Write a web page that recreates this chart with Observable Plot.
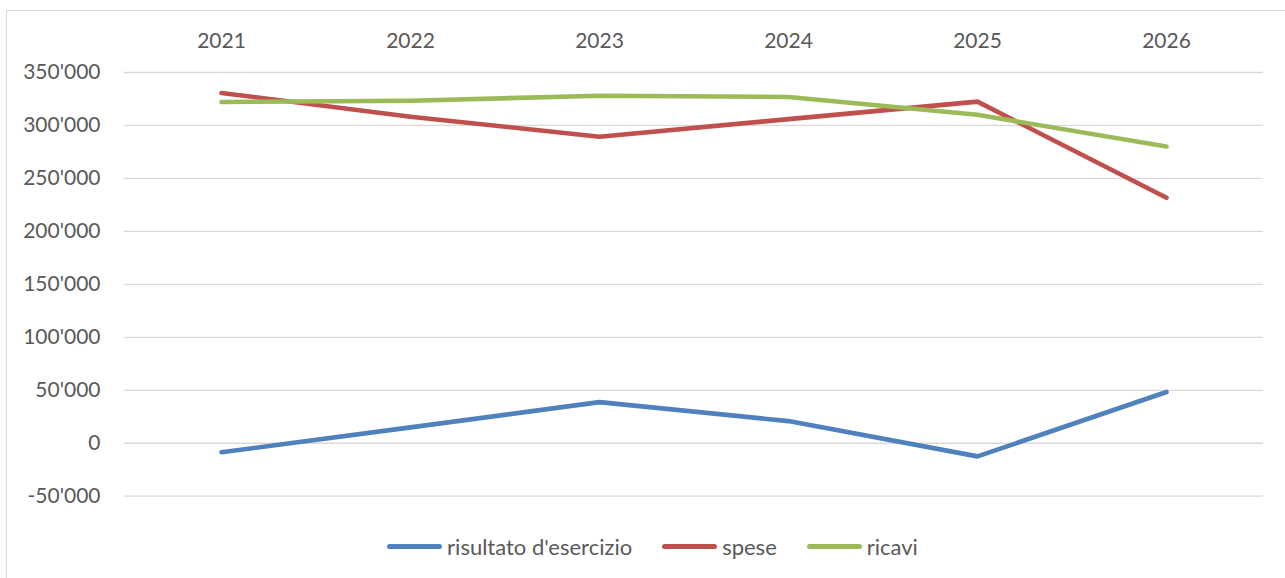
<!DOCTYPE html>
<html>
<head>
<meta charset="utf-8">
<script src="https://cdn.jsdelivr.net/npm/d3@7"></script>
<script src="https://cdn.jsdelivr.net/npm/@observablehq/plot@0.6"></script>
<style>
  html, body { margin: 0; padding: 0; background: #fff; }
  body { width: 1285px; height: 578px; position: relative; overflow: hidden; font-family: Lato, "Open Sans", sans-serif; }
  #frame { position: absolute; left: 6px; top: 10px; width: 1290px; height: 580px; border: 1px solid #d9d9d9; box-sizing: border-box; }
  #chart { position: absolute; left: 0; top: 0; }
  #legend { position: absolute; left: 0; top: 533px; width: 1305px; display: flex; justify-content: center; font-size: 22px; color: #595959; }
  .item { display: flex; align-items: center; margin: 0 15px; }
  .sw { width: 55px; height: 5px; border-radius: 3px; margin-right: 5px; }
</style>
</head>
<body>
<div id="frame"></div>
<div id="chart"></div>
<div id="legend"></div>
<script>
const years = ["2021", "2022", "2023", "2024", "2025", "2026"];
const risultato = [-8500, 15000, 38800, 20900, -12400, 48400];
const spese = [330700, 308300, 289300, 306000, 322500, 231700];
const ricavi = [322200, 323300, 328100, 326900, 310100, 280100];
const seriesNames = ["risultato d'esercizio", "spese", "ricavi"];
const seriesColors = ["#4F81BD", "#C0504D", "#9BBB59"];
const yTicks = [-50000, 0, 50000, 100000, 150000, 200000, 250000, 300000, 350000];

const seriesValues = [risultato, spese, ricavi];
const data = [];
seriesNames.forEach((name, i) => {
  years.forEach((y, j) => data.push({series: name, year: y, value: seriesValues[i][j]}));
});

const locale = d3.formatLocale({decimal: ".", thousands: "'", grouping: [3], currency: ["", ""], minus: "-"});
const fmt = locale.format(",d");

const chart = Plot.plot({
  width: 1285,
  height: 530,
  marginLeft: 124,
  marginRight: 22,
  marginTop: 72,
  marginBottom: 34.3,
  style: {fontFamily: "Lato, 'Open Sans', sans-serif", fontSize: "21px", color: "#595959", background: "transparent"},
  x: {type: "point", domain: years, padding: 0.5, axis: null},
  y: {domain: [-50000, 350000], axis: null},
  color: {domain: seriesNames, range: seriesColors},
  marks: [
    Plot.gridY(yTicks, {stroke: "#d9d9d9", strokeOpacity: 1, strokeWidth: 1.3}),
    Plot.axisY(yTicks, {tickSize: 0, tickPadding: 24, tickFormat: fmt, label: null, fill: "#595959"}),
    Plot.axisX(years, {anchor: "top", tickSize: 0, tickPadding: 25, label: null, fill: "#595959"}),
    Plot.line(data, {x: "year", y: "value", z: "series", stroke: "series", strokeWidth: 4.6, strokeLinecap: "round", strokeLinejoin: "round"})
  ]
});
document.getElementById("chart").appendChild(chart);

const legend = document.getElementById("legend");
seriesNames.forEach((name, i) => {
  const item = document.createElement("div");
  item.className = "item";
  const sw = document.createElement("div");
  sw.className = "sw";
  sw.style.background = seriesColors[i];
  const t = document.createElement("span");
  t.textContent = name;
  item.appendChild(sw);
  item.appendChild(t);
  legend.appendChild(item);
});
</script>
</body>
</html>
